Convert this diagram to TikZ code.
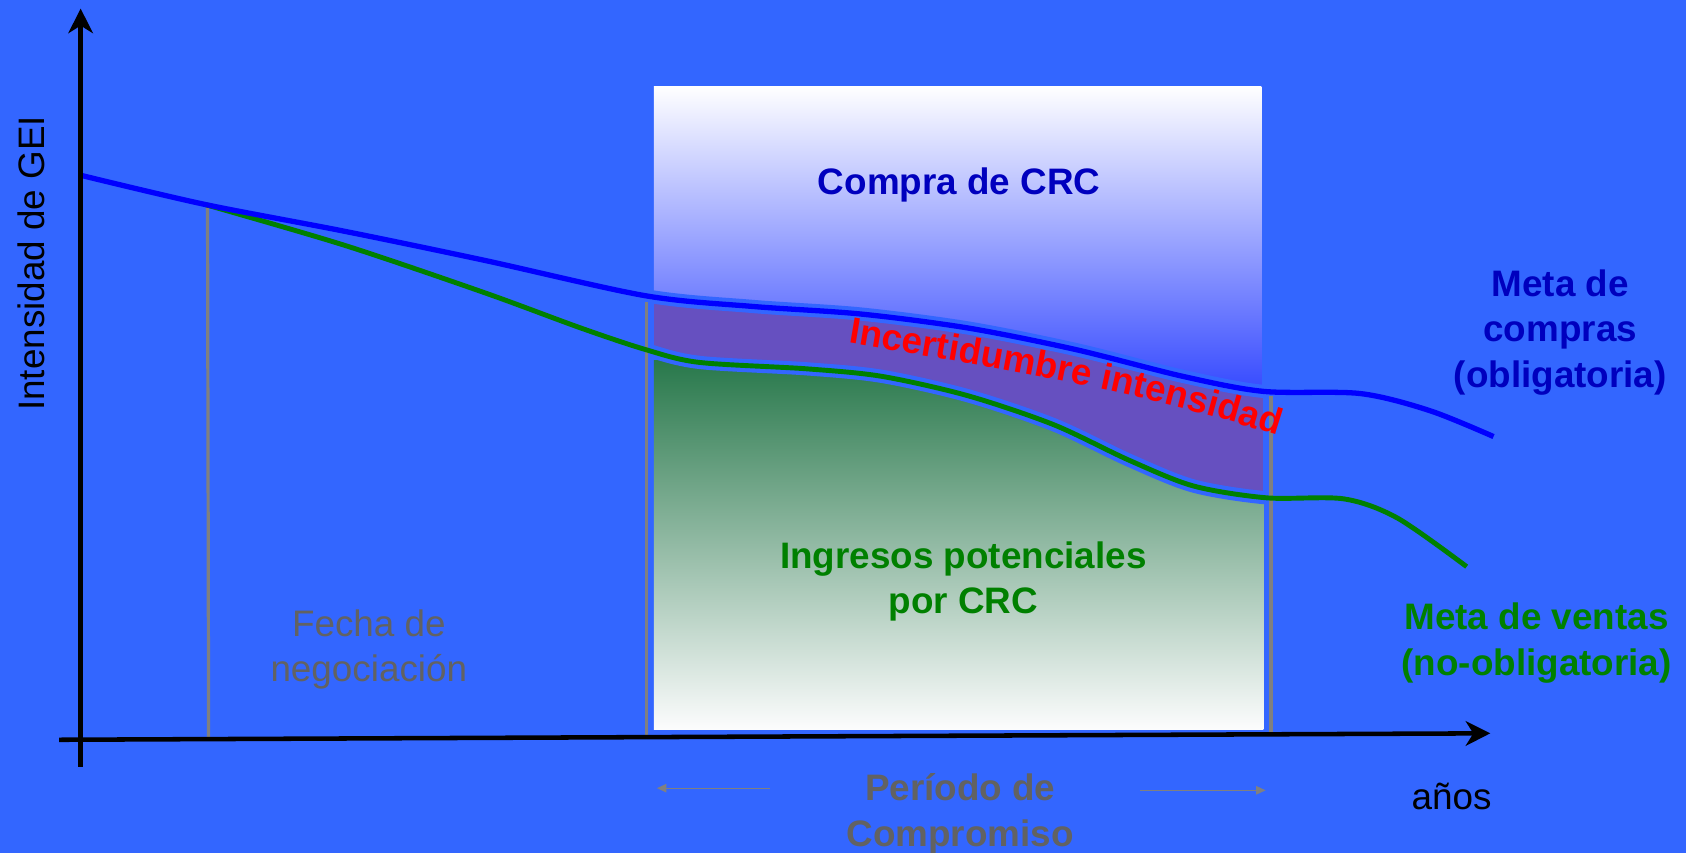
\documentclass[tikz,border=0pt]{standalone}
\usepackage{fontspec}
\setmainfont{Liberation Sans}
\usetikzlibrary{arrows.meta,decorations.text}
\definecolor{bg}{RGB}{51,102,255}
\definecolor{lineblue}{RGB}{0,0,255}
\definecolor{linegreen}{RGB}{0,128,0}
\definecolor{txtblue}{RGB}{0,0,190}
\definecolor{txtgreen}{RGB}{0,128,0}
\definecolor{txtgray}{RGB}{98,98,98}
\definecolor{band}{RGB}{102,80,192}
\definecolor{topshade}{RGB}{55,75,255}
\definecolor{gtop}{RGB}{40,120,75}
\definecolor{gmid}{RGB}{178,197,195}
\definecolor{gbot}{RGB}{252,252,253}
\definecolor{vgray}{RGB}{128,128,128}
\tikzset{
  lbl/.style={font=\fontsize{19.5}{24}\selectfont, align=center, inner sep=0pt},
  blbl/.style={lbl, font=\fontsize{19.5}{24}\selectfont\bfseries},
  axis/.style={black, line width=2.4pt, -{Stealth[length=13pt,width=13pt,inset=4pt]}},
  vline/.style={vgray, line width=1.7pt},
  glow/.style={bg, line width=7pt},
  smallarrow/.style={vgray, line width=0.6pt, -{Triangle[length=5pt,width=4.5pt]}}
}
\begin{document}
\begin{tikzpicture}[x=0.02cm,y=-0.02cm]
\fill[bg] (0,0) rectangle (1568,793);
\useasboundingbox (0,0) rectangle (1568,793);

% upper shaded box (above blue curve)
\begin{scope}
\clip plot[smooth,tension=.5] coordinates {(75,163) (190,190) (320,215) (450,242) (600,275) (700,285) (800,292) (900,305) (1000,325) (1100,350) (1175,364) (1265,366) (1330,382) (1389,406)} -- (1568,0) -- (0,0) -- cycle;
\shade[top color=white, bottom color=topshade] (608,80) rectangle (1173,362);
\end{scope}

% purple band between the curves
\begin{scope}
\clip plot[smooth,tension=.5] coordinates {(75,163) (190,190) (320,215) (450,242) (600,275) (700,285) (800,292) (900,305) (1000,325) (1100,350) (1175,364) (1265,366) (1330,382) (1389,406)} -- (1568,793) -- (0,793) -- cycle;
\clip plot[smooth,tension=.5] coordinates {(190,190) (320,228) (450,272) (540,305) (600,325) (650,337) (750,343) (820,350) (900,368) (980,395) (1050,428) (1110,452) (1178,463) (1250,464) (1300,482) (1364,527)} -- (1568,0) -- (0,0) -- cycle;
\fill[band] (608,250) rectangle (1175,500);
\end{scope}

% green shaded region (below green curve)
\begin{scope}
\clip plot[smooth,tension=.5] coordinates {(190,190) (320,228) (450,272) (540,305) (600,325) (650,337) (750,343) (820,350) (900,368) (980,395) (1050,428) (1110,452) (1178,463) (1250,464) (1300,482) (1364,527)} -- (1568,793) -- (0,793) -- cycle;
\shade[top color=gtop, middle color=gmid, bottom color=gbot] (608,335) rectangle (1175,678);
\end{scope}

% glows
\draw[glow] plot[smooth,tension=.5] coordinates {(75,163) (190,190) (320,215) (450,242) (600,275) (700,285) (800,292) (900,305) (1000,325) (1100,350) (1175,364) (1265,366) (1330,382) (1389,406)};
\draw[glow] plot[smooth,tension=.5] coordinates {(190,190) (320,228) (450,272) (540,305) (600,325) (650,337) (750,343) (820,350) (900,368) (980,395) (1050,428) (1110,452) (1178,463) (1250,464) (1300,482) (1364,527)};

% vertical gray lines
\coordinate (v1t) at (193,191);
\coordinate (v1b) at (194,688);
\coordinate (v2t) at (601,281);
\coordinate (v2b) at (601,686);
\coordinate (v3t) at (1182,368);
\coordinate (v3b) at (1182,683);
\draw[vline] (v1t) -- (v1b);
\draw[vline] (v2t) -- (v2b);
\draw[vline] (v3t) -- (v3b);

% curves
\draw[linegreen, line width=2.6pt] plot[smooth,tension=.5] coordinates {(190,190) (320,228) (450,272) (540,305) (600,325) (650,337) (750,343) (820,350) (900,368) (980,395) (1050,428) (1110,452) (1178,463) (1250,464) (1300,482) (1364,527)};
\draw[lineblue, line width=2.8pt] plot[smooth,tension=.5] coordinates {(75,163) (190,190) (320,215) (450,242) (600,275) (700,285) (800,292) (900,305) (1000,325) (1100,350) (1175,364) (1265,366) (1330,382) (1389,406)};

% axes
\coordinate (yb) at (75,713);
\coordinate (yt) at (75,8);
\coordinate (xl) at (55,688);
\coordinate (xr) at (1386,682);
\draw[axis] (yb) -- (yt);
\draw[axis] (xl) -- (xr);

% small period arrows
\coordinate (pa1) at (716,733);
\coordinate (pa2) at (611,733);
\coordinate (pb1) at (1060,735);
\coordinate (pb2) at (1177,735);
\draw[smallarrow] (pa1) -- (pa2);
\draw[smallarrow] (pb1) -- (pb2);

% curved label in the band
\path[decorate, decoration={text along path, text color=red, text align=center,
  text={|\fontsize{19.5}{24}\selectfont\bfseries|Incertidumbre intensidad}}]
  (783,318) .. controls (900,338) and (1050,360) .. (1194,407);

% labels
\node[lbl, rotate=90] (ylab) at (29,245) {Intensidad de GEI};
\node[lbl] (anos) at (1350,741) {años};
\node[blbl, txtblue] (compra) at (892,172) {Compra de CRC};
\node[blbl, txtgreen] (ingresos) at (896,541) {Ingresos potenciales\\por CRC};
\node[blbl, txtblue] (metac) at (1451,309) {Meta de\\compras\\(obligatoria)};
\node[blbl, txtgreen] (metav) at (1429,598) {Meta de ventas\\(no-obligatoria)};
\node[lbl, txtgray] (fecha) at (343,604) {Fecha de\\negociación};
\node[blbl, txtgray] (periodo) at (893,757) {Período de\\Compromiso};
\end{tikzpicture}
\end{document}
